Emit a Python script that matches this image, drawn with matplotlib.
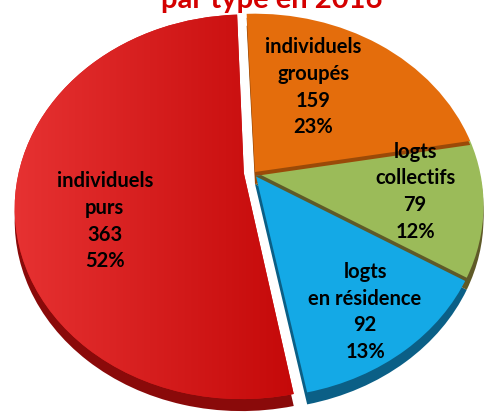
import numpy as np
import matplotlib.pyplot as plt
import matplotlib.transforms as mtransforms
from matplotlib.colors import LinearSegmentedColormap

plt.rcParams['font.family'] = ['Lato', 'DejaVu Sans']

# data, in drawing order (counter-clockwise from the top)
categories = ["individuels\npurs", "logts\nen résidence", "logts\ncollectifs", "individuels\ngroupés"]
values = [363, 92, 79, 159]
percents = ["52%", "13%", "12%", "23%"]
colors = ["#d41a1a", "#14a9e6", "#9bbb59", "#e46d0c"]
side_colors = ["#8a0a0a", "#0b5f86", "#5f5a28", "#9a4a08"]
explode = [0.05, 0.0, 0.0, 0.0]
label_pos = [(0.214, 0.467), (0.745, 0.248), (0.847, 0.538), (0.639, 0.79)]


class Persp(mtransforms.Transform):
    # simple perspective tilt: far (top) side shrinks, near side grows
    input_dims = output_dims = 2

    def __init__(self, a):
        super().__init__()
        self.a = a

    def transform_non_affine(self, v):
        v = np.asarray(v, dtype=float)
        d = 1 + self.a * v[:, 1]
        return np.column_stack([v[:, 0] / d, v[:, 1] / d])


fig = plt.figure(figsize=(4.9, 4.15), dpi=100)
ax = fig.add_axes([0, 0, 1, 1])

cx, cy, rx, ry, depth = 255, 243, 225, 186, 12
tilt = 0.175
start = 92.5


def place(wlist, dy, z):
    for w in wlist:
        w.set_transform(Persp(tilt) + mtransforms.Affine2D().scale(rx, ry).translate(cx, cy - dy) + ax.transData)
        w.set_zorder(z)


shadow, _ = ax.pie(values, colors=side_colors, startangle=start, counterclock=True,
                   explode=explode, wedgeprops=dict(linewidth=0))
wedges, _ = ax.pie(values, colors=colors, startangle=start, counterclock=True,
                   explode=explode, wedgeprops=dict(linewidth=0))
walls, _ = ax.pie(values, colors=side_colors, startangle=start, counterclock=True,
                  explode=explode, wedgeprops=dict(linewidth=0))
place(shadow, depth, 1)
place(wedges, 0, 2)
place(walls, 4, 2)
# thin side walls of green (over blue) and orange (over green)
walls[0].set_visible(False)
walls[1].set_visible(False)
walls[2].set_zorder(3)
wedges[2].set_zorder(4)
walls[3].set_zorder(5)
wedges[3].set_zorder(6)

ax.set_aspect('auto')
ax.set_xlim(0, 490)
ax.set_ylim(0, 415)
ax.axis('off')

# light-to-dark gradient on the big red slice
grad = np.linspace(0, 1, 256).reshape(1, -1)
cmap = LinearSegmentedColormap.from_list("red", ["#e83434", "#c40808"])
img = ax.imshow(grad, cmap=cmap, aspect='auto', extent=[0, 300, 0, 415], zorder=2.5)
img.set_clip_path(wedges[0])
ax.set_xlim(0, 490)
ax.set_ylim(0, 415)

for cat, val, pct, (x, y) in zip(categories, values, percents, label_pos):
    ax.text(x, y, f"{cat}\n{val}\n{pct}", transform=ax.transAxes,
            ha='center', va='center', fontsize=14.5, fontweight='bold',
            linespacing=1.42, color='black', zorder=10)

fig.text(0.555, 1 - 8 / 415, "par type en 2016", ha='center', va='baseline',
         fontsize=21, fontweight='bold', color='#d40000')

fig.savefig("out.png", dpi=100)
